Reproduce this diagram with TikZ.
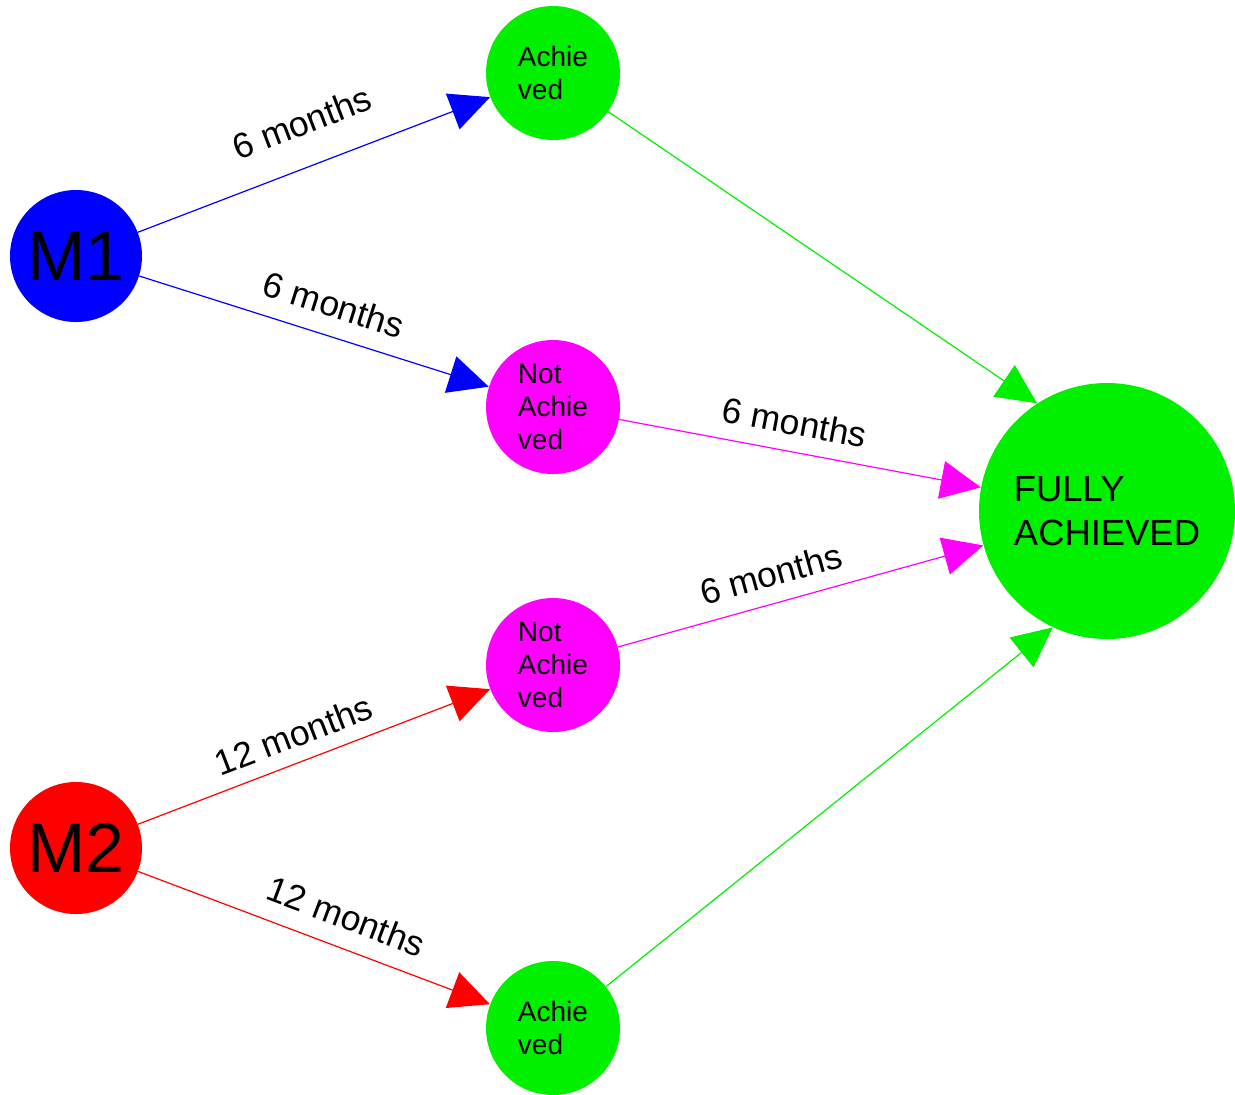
\documentclass[tikz,border=0pt]{standalone}
\usepackage{fontspec}
\setmainfont{Liberation Sans}
\usetikzlibrary{arrows.meta}
\definecolor{cblue}{RGB}{0,0,255}
\definecolor{cgreen}{RGB}{0,240,0}
\definecolor{cmag}{RGB}{255,0,255}
\definecolor{cred}{RGB}{255,0,0}
\begin{document}
\begin{tikzpicture}[x=0.5pt,y=-0.5pt,
  circ/.style={circle, inner sep=0pt, minimum size=67pt, align=left, font=\fontsize{14}{16.5}\selectfont},
  bignode/.style={circle, inner sep=0pt, minimum size=128pt, align=left, fill=cgreen, font=\fontsize{18.2}{22}\selectfont},
  mnode/.style={circle, inner sep=0pt, minimum size=66pt, font=\fontsize{35}{40}\selectfont},
  link/.style={line width=0.6pt, -{Triangle[length=20pt,width=19pt]}},
  lbl/.style={sloped, anchor=south, inner sep=0pt, font=\fontsize{17.7}{20}\selectfont}
]
\useasboundingbox (0,0) rectangle (1235,1094);
\node[mnode, fill=cblue] (m1) at (76,256) {M1};
\node[mnode, fill=cred] (m2) at (76,848) {M2};
\node[circ, fill=cgreen] (a1) at (553,73) {Achie\\ved};
\node[circ, fill=cmag] (n1) at (553,407) {Not\\Achie\\ved};
\node[circ, fill=cmag] (n2) at (553,665) {Not\\Achie\\ved};
\node[circ, fill=cgreen] (a2) at (553,1028) {Achie\\ved};
\node[bignode] (fa) at (1107,511) {FULLY\\ACHIEVED};

\draw[link, cblue] (m1) -- node[lbl, pos=0.51, above=15pt, text=black] {6 months} (a1);
\draw[link, cblue] (m1) -- node[lbl, pos=0.53, above=9pt, text=black] {6 months} (n1);
\draw[link, cmag] (n1) -- node[lbl, pos=0.47, above=8pt, text=black] {6 months} (fa);
\draw[link, cmag] (n2) -- node[lbl, pos=0.44, above=8pt, text=black] {6 months} (fa);
\draw[link, cred] (m2) -- node[lbl, pos=0.47, above=7pt, text=black] {12 months} (n2);
\draw[link, cred] (m2) -- node[lbl, pos=0.56, above=9pt, text=black] {12 months} (a2);
\draw[link, cgreen] (a1.-35) -- (fa.123);
\draw[link, cgreen] (a2.38) -- (fa.245);
\end{tikzpicture}
\end{document}
